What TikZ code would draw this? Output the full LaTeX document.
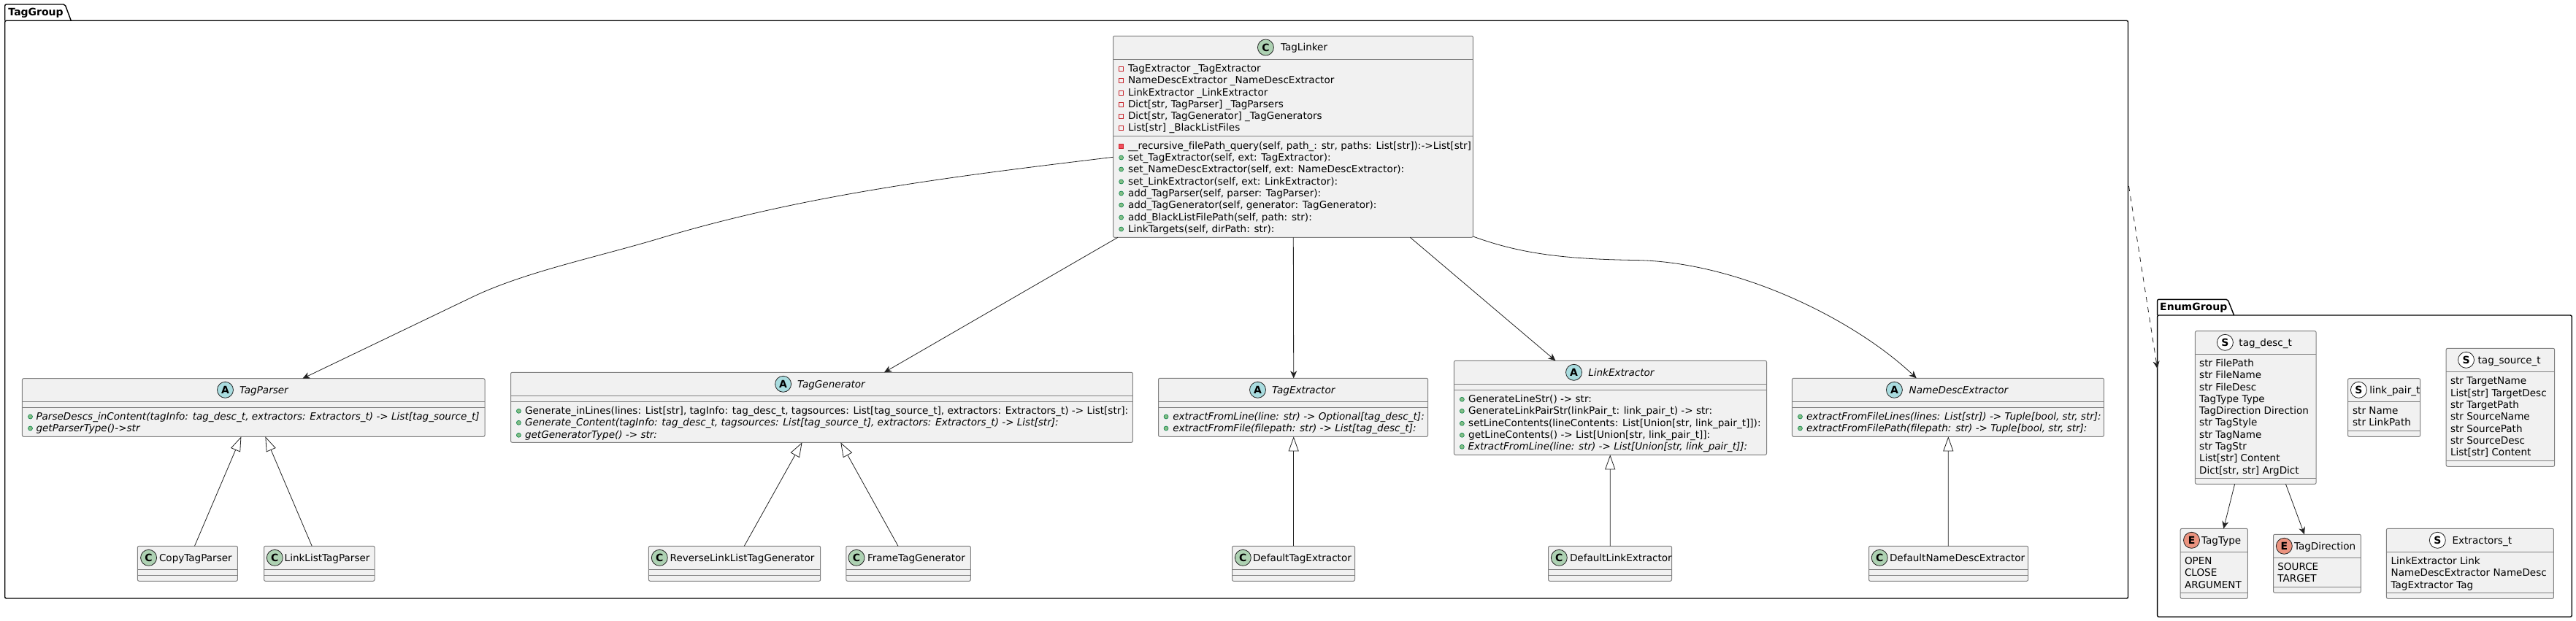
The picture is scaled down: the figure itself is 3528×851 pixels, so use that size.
\documentclass[tikz,border=0pt]{standalone}
\usepackage{fontspec}
\setmainfont[Ligatures={NoCommon}]{DejaVu Sans}
\usetikzlibrary{arrows.meta}
\definecolor{boxfill}{HTML}{F1F1F1}
\definecolor{boxline}{HTML}{808080}
\definecolor{ink}{HTML}{222222}
\definecolor{iconC}{HTML}{ADD1B2}
\definecolor{iconA}{HTML}{A9DCDF}
\definecolor{iconE}{HTML}{EB937F}
\definecolor{iconS}{HTML}{FFFFFF}
\definecolor{privline}{HTML}{C82930}
\definecolor{privfill}{HTML}{F24D5C}
\definecolor{publine}{HTML}{038048}
\definecolor{pubfill}{HTML}{84BE84}
\catcode`\_=12
\newcounter{tn}
\tikzset{
  umlbox/.style={draw=boxline,fill=boxfill,line width=1pt,rounded corners=2pt,inner sep=0pt,outer sep=0pt,anchor=north west},
  seprule/.style={draw=boxline,line width=1pt},
  txt/.style={anchor=base west,inner sep=0pt,outer sep=0pt,font=\fontsize{13.55}{16}\selectfont},
  itxt/.style={txt,font=\fontsize{13.55}{16}\selectfont\itshape},
  icon/.style={circle,draw=ink,line width=0.8pt,minimum size=22pt,inner sep=0pt,font=\fontsize{14}{16}\selectfont\bfseries},
  pkg/.style={draw=black,line width=1.4pt,rounded corners=2pt,inner sep=0pt,outer sep=0pt,anchor=north west},
  pkgtab/.style={draw=black,line width=1.4pt,rounded corners=2pt},
  pkgtxt/.style={anchor=base west,inner sep=0pt,font=\fontsize{14}{16}\selectfont\bfseries},
  assoc/.style={draw=ink,line width=0.8pt,-{Stealth[length=10pt,width=9pt,inset=3pt]}},
  inherit/.style={draw=ink,line width=0.8pt,-{Triangle[length=20pt,width=14pt,fill=white]}},
  depend/.style={draw=ink,line width=0.8pt,dash pattern=on 7pt off 7pt,-{Stealth[length=10pt,width=9pt,inset=3pt]}},
}
% name x1 y1 x2 y2
\newcommand\ubox[5]{\node[umlbox,minimum width={(#4-#2)*1pt},minimum height={(#5-#3)*1pt}] (#1) at (#2,#3) {};}
\newcommand\sepl[3]{\draw[seprule] (#1,#3) -- (#2,#3);}
\newcommand\utext[3]{\stepcounter{tn}\node[txt] (t\thetn) at (#1,#2+5) {#3};}
\newcommand\uitext[3]{\stepcounter{tn}\node[itxt] (t\thetn) at (#1,#2+5) {#3};}
\newcommand\uicon[4]{\stepcounter{tn}\node[icon,fill=#3] (t\thetn) at (#1,#2) {#4};}
\newcommand\pubdot[2]{\draw[publine,fill=pubfill,line width=0.6pt] (#1,#2+1) circle[radius=3pt];}
\newcommand\privbox[2]{\draw[privline,line width=0.8pt] (#1-3,#2-2) rectangle (#1+3,#2+4);}
\newcommand\privfilled[2]{\draw[privline,fill=privfill,line width=0.8pt] (#1-3,#2-2) rectangle (#1+3,#2+4);}
% empty class: name x1 x2 iconx textx text
\newcommand\leaf[6]{\ubox{#1}{#2}{748.3}{#3}{796.3}\sepl{#2}{#3}{780.3}\sepl{#2}{#3}{788.3}\uicon{#4}{764.3}{iconC}{C}\utext{#5}{764.3}{#6}}
\begin{document}
\begin{tikzpicture}[x=1pt,y=-1pt]
\useasboundingbox (0,0) rectangle (3528,851);
% packages
\node[pkg,minimum width=2907.8pt,minimum height=791.7pt] (tagpkg) at (6.7,28.3) {};
\draw[pkgtab] (6.7,28.3) -- (6.7,6) -- (89,6) -- (97.3,28.3);
\node[pkgtxt] (tagpkgt) at (11.3,21.5) {TagGroup};
\node[pkg,minimum width=567.6pt,minimum height=413.3pt] (enumpkg) at (2954.6,432) {};
\draw[pkgtab] (2954.6,432) -- (2954.6,410.3) -- (3051,410.3) -- (3059.6,432);
\node[pkgtxt] (enumpkgt) at (2958,425.5) {EnumGroup};
% TagLinker
\ubox{linker}{1524.5}{49.3}{2017.4}{325.3}
\sepl{1524.5}{2017.4}{81.3}\sepl{1524.5}{2017.4}{186}
\uicon{1733.4}{65}{iconC}{C}\utext{1754}{65}{TagLinker}
\privbox{1535.6}{93.3}\utext{1545}{93.3}{TagExtractor _TagExtractor}
\privbox{1535.6}{109.3}\utext{1545}{109.3}{NameDescExtractor _NameDescExtractor}
\privbox{1535.6}{126.3}\utext{1545}{126.3}{LinkExtractor _LinkExtractor}
\privbox{1535.6}{142.3}\utext{1545}{142.3}{Dict[str, TagParser] _TagParsers}
\privbox{1535.6}{158.3}\utext{1545}{158.3}{Dict[str, TagGenerator] _TagGenerators}
\privbox{1535.6}{174.3}\utext{1545}{174.3}{List[str] _BlackListFiles}
\privfilled{1535.6}{199}\utext{1545}{199}{__recursive_filePath_query(self, path_: str, paths: List[str]):->List[str]}
\pubdot{1535.6}{215}\utext{1545}{215}{set_TagExtractor(self, ext: TagExtractor):}
\pubdot{1535.6}{231}\utext{1545}{231}{set_NameDescExtractor(self, ext: NameDescExtractor):}
\pubdot{1535.6}{248}\utext{1545}{248}{set_LinkExtractor(self, ext: LinkExtractor):}
\pubdot{1535.6}{264}\utext{1545}{264}{add_TagParser(self, parser: TagParser):}
\pubdot{1535.6}{280}\utext{1545}{280}{add_TagGenerator(self, generator: TagGenerator):}
\pubdot{1535.6}{297}\utext{1545}{297}{add_BlackListFilePath(self, path: str):}
\pubdot{1535.6}{313}\utext{1545}{313}{LinkTargets(self, dirPath: str):}
% TagParser
\ubox{parser}{30.4}{518.7}{664}{598.3}
\sepl{30.4}{664}{550.3}\sepl{30.4}{664}{558.3}
\uicon{308.5}{534.3}{iconA}{A}\uitext{328}{534.3}{TagParser}
\pubdot{41.5}{570}\uitext{49.5}{570}{ParseDescs_inContent(tagInfo: tag_desc_t, extractors: Extractors_t) -> List[tag_source_t]}
\pubdot{41.5}{586}\uitext{49.5}{586}{getParserType()->str}
\leaf{copyp}{188.4}{325.4}{203.6}{218}{CopyTagParser}
\leaf{linkp}{361.6}{513}{376.3}{389.7}{LinkListTagParser}
% TagGenerator
\ubox{generator}{699.5}{510.3}{1551.4}{606.3}
\sepl{699.5}{1551.4}{542.3}\sepl{699.5}{1551.4}{550.3}
\uicon{1072.6}{526.3}{iconA}{A}\uitext{1092.2}{526.3}{TagGenerator}
\pubdot{710.4}{562.3}\utext{719}{562.3}{Generate_inLines(lines: List[str], tagInfo: tag_desc_t, tagsources: List[tag_source_t], extractors: Extractors_t) -> List[str]:}
\pubdot{710.4}{578.3}\uitext{719}{578.3}{Generate_Content(tagInfo: tag_desc_t, tagsources: List[tag_source_t], extractors: Extractors_t) -> List[str]:}
\pubdot{710.4}{595.3}\uitext{719}{595.3}{getGeneratorType() -> str:}
\leaf{revg}{888.4}{1123.7}{903.3}{917.7}{ReverseLinkListTagGenerator}
\leaf{frameg}{1158.8}{1329.3}{1173}{1188}{FrameTagGenerator}
% TagExtractor
\ubox{tagext}{1586.5}{518.3}{1955.6}{598.3}
\sepl{1586.5}{1955.6}{550.3}\sepl{1586.5}{1955.6}{558.3}
\uicon{1722.5}{534.3}{iconA}{A}\uitext{1742.2}{534.3}{TagExtractor}
\pubdot{1597}{570}\uitext{1606.3}{570}{extractFromLine(line: str) -> Optional[tag_desc_t]:}
\pubdot{1597}{586}\uitext{1606.3}{586}{extractFromFile(filepath: str) -> List[tag_desc_t]:}
\leaf{deftag}{1687.5}{1855.5}{1702.3}{1716}{DefaultTagExtractor}
% LinkExtractor
\ubox{linkext}{1991.4}{494.3}{2419.5}{623.3}
\sepl{1991.4}{2419.5}{526.3}\sepl{1991.4}{2419.5}{534.3}
\uicon{2155.5}{510.3}{iconA}{A}\uitext{2175.3}{510.3}{LinkExtractor}
\pubdot{2002.3}{546.3}\utext{2011.2}{546.3}{GenerateLineStr() -> str:}
\pubdot{2002.3}{562.3}\utext{2011.2}{562.3}{GenerateLinkPairStr(linkPair_t: link_pair_t) -> str:}
\pubdot{2002.3}{579.3}\utext{2011.2}{579.3}{setLineContents(lineContents: List[Union[str, link_pair_t]]):}
\pubdot{2002.3}{595.3}\utext{2011.2}{595.3}{getLineContents() -> List[Union[str, link_pair_t]]:}
\pubdot{2002.3}{611.3}\uitext{2010.5}{611.3}{ExtractFromLine(line: str) -> List[Union[str, link_pair_t]]:}
\leaf{deflink}{2120.6}{2289.5}{2135.3}{2150}{DefaultLinkExtractor}
% NameDescExtractor
\ubox{nameext}{2454.4}{518.3}{2881.4}{598.3}
\sepl{2454.4}{2881.4}{550.3}\sepl{2454.4}{2881.4}{558.3}
\uicon{2594.4}{534.3}{iconA}{A}\uitext{2614.6}{534.3}{NameDescExtractor}
\pubdot{2465.4}{570}\uitext{2474}{570}{extractFromFileLines(lines: List[str]) -> Tuple[bool, str, str]:}
\pubdot{2465.4}{586}\uitext{2474}{586}{extractFromFilePath(filepath: str) -> Tuple[bool, str, str]:}
\leaf{defname}{2559.5}{2777.6}{2574.2}{2588}{DefaultNameDescExtractor}
% tag_desc_t
\ubox{desc}{3006.4}{453.7}{3172.1}{663.3}
\sepl{3006.4}{3172.1}{485.3}\sepl{3006.4}{3172.1}{655.3}
\uicon{3047.4}{469.3}{iconS}{S}\utext{3066.4}{469.3}{tag_desc_t}
\utext{3012.2}{497.3}{str FilePath}
\utext{3012.2}{513.3}{str FileName}
\utext{3012.2}{530}{str FileDesc}
\utext{3012.2}{546}{TagType Type}
\utext{3012.2}{562.3}{TagDirection Direction}
\utext{3012.2}{578.3}{str TagStyle}
\utext{3012.2}{595}{str TagName}
\utext{3012.2}{611}{str TagStr}
\utext{3012.2}{627.3}{List[str] Content}
\utext{3012.2}{644}{Dict[str, str] ArgDict}
% link_pair_t
\ubox{pair}{3215.5}{518.7}{3314.7}{598.3}
\sepl{3215.5}{3314.7}{550.3}\sepl{3215.5}{3314.7}{590.3}
\uicon{3230.4}{534.3}{iconS}{S}\utext{3245.3}{534.3}{link_pair_t}
\utext{3222.1}{562.3}{str Name}
\utext{3222.1}{578.3}{str LinkPath}
% tag_source_t
\ubox{source}{3350.2}{477.3}{3498.6}{639.3}
\sepl{3350.2}{3498.6}{509.3}\sepl{3350.2}{3498.6}{631.3}
\uicon{3377.5}{493.3}{iconS}{S}\utext{3393.6}{493.3}{tag_source_t}
\utext{3356}{521.3}{str TargetName}
\utext{3356}{538}{List[str] TargetDesc}
\utext{3356}{554}{str TargetPath}
\utext{3356}{570.3}{str SourceName}
\utext{3356}{587}{str SourcePath}
\utext{3356}{603}{str SourceDesc}
\utext{3356}{619.3}{List[str] Content}
% TagType
\ubox{ttype}{2986.2}{724.3}{3078.3}{820.3}
\sepl{2986.2}{3078.3}{756.3}\sepl{2986.2}{3078.3}{812.3}
\uicon{3001.5}{740.3}{iconE}{E}\utext{3015.1}{740.3}{TagType}
\utext{2992}{768.3}{OPEN}
\utext{2992}{784.3}{CLOSE}
\utext{2992}{801.3}{ARGUMENT}
% TagDirection
\ubox{tdir}{3113.5}{732.3}{3233.3}{812.3}
\sepl{3113.5}{3233.3}{764.3}\sepl{3113.5}{3233.3}{804.3}
\uicon{3128.3}{748.3}{iconE}{E}\utext{3142}{748.3}{TagDirection}
\utext{3119.3}{776.3}{SOURCE}
\utext{3119.3}{792.3}{TARGET}
% Extractors_t
\ubox{exts}{3268.4}{724.3}{3497.4}{820.3}
\sepl{3268.4}{3497.4}{756.3}\sepl{3268.4}{3497.4}{812.3}
\uicon{3338.3}{740.3}{iconS}{S}\utext{3358.5}{740.3}{Extractors_t}
\utext{3274.6}{768.3}{LinkExtractor Link}
\utext{3274.6}{784.3}{NameDescExtractor NameDesc}
\utext{3274.6}{801.3}{TagExtractor Tag}
% connectors
\draw[assoc] ([yshift=110pt]linker.south west)
  .. controls (1320,240) and (1110,265) .. (909,325)
  .. controls (820,352) and (720,372) .. (647,407)
  -- ([xshift=384pt]parser.north west);
\draw[assoc] ([xshift=6.5pt]linker.south west) -- ([xshift=511.5pt]generator.north west);
\draw[assoc] ([xshift=246.8pt]linker.south west) -- ([xshift=185.2pt]tagext.north west);
\draw[assoc] ([xshift=406.8pt]linker.south west) -- ([xshift=139pt]linkext.north west);
\draw[assoc] ([yshift=1.3pt]linker.south east)
  .. controls (2080,347) and (2140,355) .. (2238,356.5)
  .. controls (2380,358) and (2540,438) .. ([xshift=170.3pt]nameext.north west);
\draw[inherit] ([xshift=78.1pt]copyp.north west) -- ([xshift=300pt]parser.south west);
\draw[inherit] ([xshift=65.6pt]linkp.north west) -- ([xshift=333pt]parser.south west);
\draw[inherit] ([xshift=130.9pt]revg.north west) -- ([xshift=399pt]generator.south west);
\draw[inherit] ([xshift=71.2pt]frameg.north west) -- ([xshift=451.8pt]generator.south west);
\draw[inherit] ([xshift=84.2pt]deftag.north west) -- ([xshift=185.2pt]tagext.south west);
\draw[inherit] ([xshift=84.6pt]deflink.north west) -- ([xshift=213.8pt]linkext.south west);
\draw[inherit] ([xshift=108.8pt]defname.north west) -- ([xshift=213.9pt]nameext.south west);
\draw[assoc] ([xshift=54.2pt]desc.south west) -- ([xshift=59.1pt]ttype.north west);
\draw[assoc] ([xshift=124pt]desc.south west) -- ([xshift=42.5pt]tdir.north west);
\draw[depend] ([yshift=-226.7pt,xshift=1pt]tagpkg.north east) -- ([yshift=-73pt]enumpkg.north west);
\end{tikzpicture}
\end{document}
